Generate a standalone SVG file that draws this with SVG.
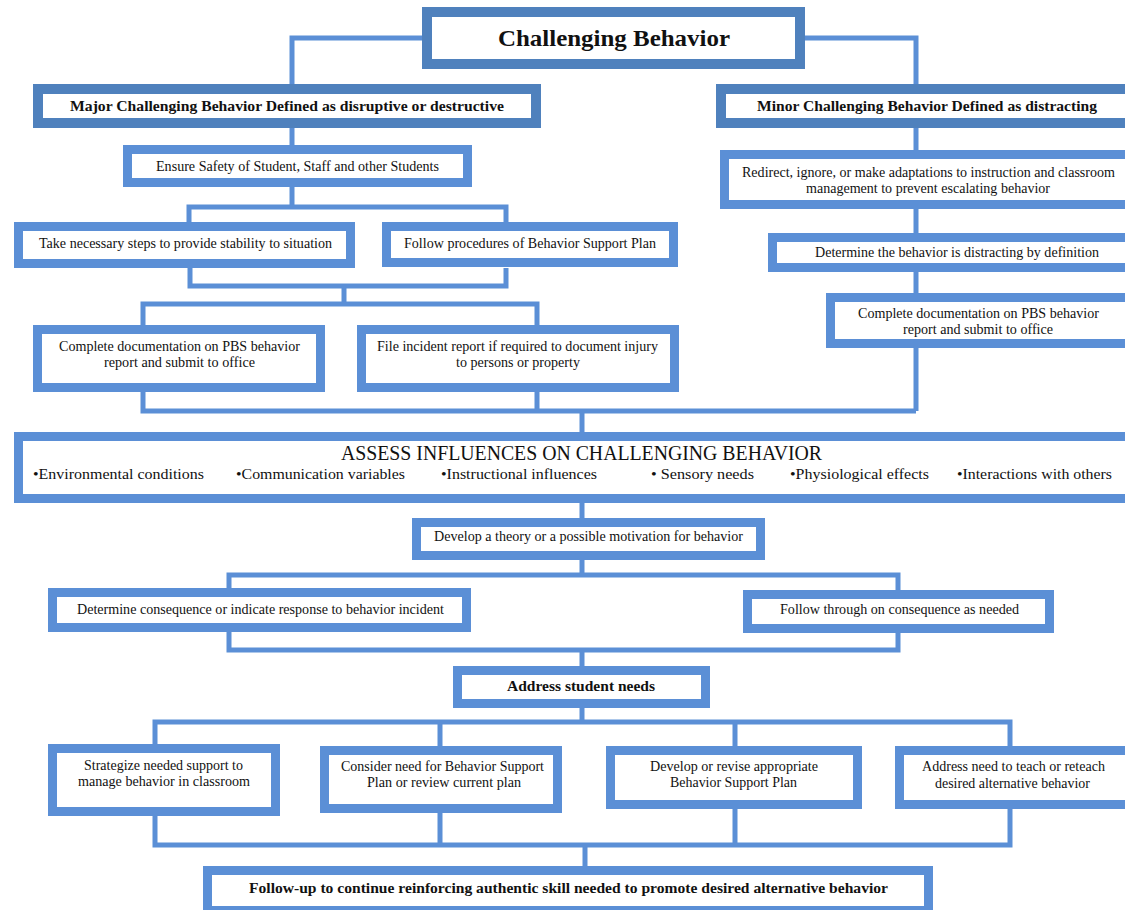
<svg xmlns="http://www.w3.org/2000/svg" width="1125" height="910" viewBox="0 0 1125 910">
<style>
.bx{fill:#fff;stroke:#5b8fd6;stroke-width:9}
.bk{fill:#fff;stroke:#4f81bd;stroke-width:10}
.cn{fill:none;stroke:#5b8fd6;stroke-width:5}
text{font-family:"Liberation Serif","Times New Roman",serif;fill:#111;font-size:15px}
.b{font-weight:bold;font-size:15px}
.t{font-weight:bold;font-size:24px}
.a{font-size:20px}
</style>
<rect width="1125" height="910" fill="#fff"/>
<g id="connectors">
<path class="cn" d="M422,38H292V84M805,38H916V84M292,128V145M292,187V207M189,222V207H506V222M190,268V286H506V268M344,286V304M143,325V304H537V325M143,392V411H916M537,392V411M582,411V432M916,128V150M916,208V233M916,272V293M916,347V411M582,502V518M582,560V575M229,590V575H898V590M229,632V650H898V632M582,650V666M582,707V722M155,745V722H1010V746M440,722V746M735,722V746M155,815V845H1010V808M440,813V845M735,808V845M585,845V868"/>
</g>
<g id="title"><rect class="bk" x="427" y="12" width="373" height="52"/><text class="t" x="498" y="46" textLength="232" lengthAdjust="spacingAndGlyphs">Challenging Behavior</text></g>
<g id="major"><rect class="bk" x="38" y="89" width="498" height="34"/><text class="b" x="70" y="111" textLength="434" lengthAdjust="spacingAndGlyphs">Major Challenging Behavior Defined as disruptive or destructive</text></g>
<g id="minor"><rect class="bk" x="721" y="89" width="420" height="34"/><text class="b" x="757" y="111" textLength="340" lengthAdjust="spacingAndGlyphs">Minor Challenging Behavior Defined as distracting</text></g>
<g id="ensure"><rect class="bx" x="127.5" y="149.5" width="340" height="33"/><text x="156" y="171" textLength="283" lengthAdjust="spacingAndGlyphs">Ensure Safety of Student, Staff and other Students</text></g>
<g id="take"><rect class="bx" x="18.5" y="226.5" width="332" height="37"/><text x="39" y="248" textLength="293" lengthAdjust="spacingAndGlyphs">Take necessary steps to provide stability to situation</text></g>
<g id="follow"><rect class="bx" x="386.5" y="226.5" width="287" height="36"/><text x="404" y="248" textLength="252" lengthAdjust="spacingAndGlyphs">Follow procedures of Behavior Support Plan</text></g>
<g id="completeL"><rect class="bx" x="37.5" y="329.5" width="283" height="58"/><text x="59" y="351" textLength="241" lengthAdjust="spacingAndGlyphs">Complete documentation on PBS behavior</text><text x="104" y="367" textLength="151" lengthAdjust="spacingAndGlyphs">report and submit to office</text></g>
<g id="file"><rect class="bx" x="361.5" y="329.5" width="313" height="58"/><text x="377" y="351" textLength="281" lengthAdjust="spacingAndGlyphs">File incident report if required to document injury</text><text x="456" y="367" textLength="124" lengthAdjust="spacingAndGlyphs">to persons or property</text></g>
<g id="redirect"><rect class="bx" x="724.5" y="154.5" width="420" height="50"/><text x="742" y="177" textLength="373" lengthAdjust="spacingAndGlyphs">Redirect, ignore, or make adaptations to instruction and classroom</text><text x="806" y="193" textLength="244" lengthAdjust="spacingAndGlyphs">management to prevent escalating behavior</text></g>
<g id="determine"><rect class="bx" x="772.5" y="237.5" width="370" height="30"/><text x="815" y="257" textLength="284" lengthAdjust="spacingAndGlyphs">Determine the behavior is distracting by definition</text></g>
<g id="completeR"><rect class="bx" x="830.5" y="297.5" width="310" height="46"/><text x="858" y="318" textLength="241" lengthAdjust="spacingAndGlyphs">Complete documentation on PBS behavior</text><text x="903" y="334" textLength="150" lengthAdjust="spacingAndGlyphs">report and submit to office</text></g>
<g id="assess"><rect class="bx" x="18.5" y="436.5" width="1125" height="62"/><text class="a" x="341" y="460" textLength="481" lengthAdjust="spacingAndGlyphs">ASSESS INFLUENCES ON CHALLENGING BEHAVIOR</text>
<text x="33" y="479" textLength="171" lengthAdjust="spacingAndGlyphs">•Environmental conditions</text>
<text x="236" y="479" textLength="169" lengthAdjust="spacingAndGlyphs">•Communication variables</text>
<text x="441" y="479" textLength="156" lengthAdjust="spacingAndGlyphs">•Instructional influences</text>
<text x="651" y="479" textLength="103" lengthAdjust="spacingAndGlyphs">• Sensory needs</text>
<text x="790" y="479" textLength="139" lengthAdjust="spacingAndGlyphs">•Physiological effects</text>
<text x="957" y="479" textLength="155" lengthAdjust="spacingAndGlyphs">•Interactions with others</text></g>
<g id="theory"><rect class="bx" x="416.5" y="522.5" width="344" height="33"/><text x="434" y="541" textLength="309" lengthAdjust="spacingAndGlyphs">Develop a theory or a possible motivation for behavior</text></g>
<g id="consequence"><rect class="bx" x="52.5" y="592.5" width="414" height="35"/><text x="77" y="614" textLength="367" lengthAdjust="spacingAndGlyphs">Determine consequence or indicate response to behavior incident</text></g>
<g id="followthrough"><rect class="bx" x="747.5" y="594.5" width="302" height="34"/><text x="780" y="614" textLength="239" lengthAdjust="spacingAndGlyphs">Follow through on consequence as needed</text></g>
<g id="address"><rect class="bx" x="457.5" y="670.5" width="248" height="33"/><text class="b" x="507" y="691" textLength="148" lengthAdjust="spacingAndGlyphs">Address student needs</text></g>
<g id="strategize"><rect class="bx" x="52.5" y="748.5" width="223" height="63"/><text x="84" y="770" textLength="159" lengthAdjust="spacingAndGlyphs">Strategize needed support to</text><text x="78" y="786" textLength="172" lengthAdjust="spacingAndGlyphs">manage behavior in classroom</text></g>
<g id="consider"><rect class="bx" x="324.5" y="750.5" width="233" height="58"/><text x="341" y="771" textLength="203" lengthAdjust="spacingAndGlyphs">Consider need for Behavior Support</text><text x="367" y="787" textLength="154" lengthAdjust="spacingAndGlyphs">Plan or review current plan</text></g>
<g id="revise"><rect class="bx" x="610.5" y="750.5" width="247" height="54"/><text x="650" y="771" textLength="168" lengthAdjust="spacingAndGlyphs">Develop or revise appropriate</text><text x="670" y="787" textLength="127" lengthAdjust="spacingAndGlyphs">Behavior Support Plan</text></g>
<g id="addressNeed"><rect class="bx" x="899.5" y="750.5" width="240" height="54"/><text x="922" y="771" textLength="183" lengthAdjust="spacingAndGlyphs">Address need to teach or reteach</text><text x="935" y="788" textLength="155" lengthAdjust="spacingAndGlyphs">desired alternative behavior</text></g>
<g id="followup"><rect class="bx" x="207.5" y="870.5" width="721" height="40"/><text class="b" x="249" y="893" textLength="639" lengthAdjust="spacingAndGlyphs">Follow-up to continue reinforcing authentic skill needed to promote desired alternative behavior</text></g>
</svg>
